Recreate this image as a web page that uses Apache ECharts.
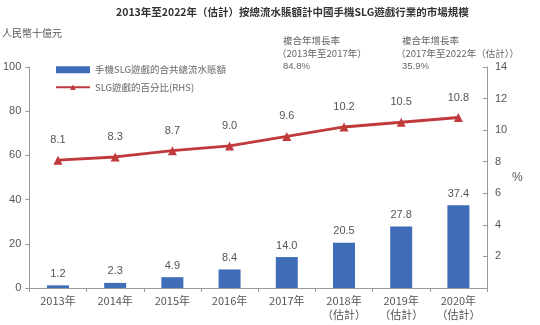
<!DOCTYPE html>
<html><head><meta charset="utf-8">
<script src="https://cdn.jsdelivr.net/npm/echarts@6/dist/echarts.min.js"></script>
<style>html,body{margin:0;padding:0;background:#fff}#c{width:540px;height:325px}</style>
</head><body><div id="c"></div>
<script>
const categories = ['2013年','2014年','2015年','2016年','2017年','2018年\n（估計）','2019年\n（估計）','2020年\n（估計）'];
const grossBilling = [1.2, 2.3, 4.9, 8.4, 14.0, 20.5, 27.8, 37.4];
const slgShare = [8.1, 8.3, 8.7, 9.0, 9.6, 10.2, 10.5, 10.8];
const leftTicks = [0, 20, 40, 60, 80, 100];
const rightTicks = [2, 4, 6, 8, 10, 12, 14];
const seriesNames = ['手機SLG遊戲的合共總流水賬額', 'SLG遊戲的百分比(RHS)'];
const cagr = [['複合年增長率', '（2013年至2017年）', '84.8%'], ['複合年增長率', '（2017年至2022年（估計））', '35.9%']];

const FONT = '"Liberation Sans","Noto Sans CJK TC",sans-serif';
const chart = echarts.init(document.getElementById('c'));
const textEls = [
  {type:'text', left:116, top:7, style:{text:'2013年至2022年（估計）按總流水賬額計中國手機SLG遊戲行業的市場規模', font:'bold 10.5px "Noto Sans CJK TC",sans-serif', fill:'#333'}},
  {type:'text', left:2, top:28, style:{text:'人民幣十億元', font:'10px "Noto Sans CJK TC",sans-serif', fill:'#555'}},
  {type:'text', left:512, top:172, style:{text:'%', font:'12px '+FONT, fill:'#555'}},
];
[283, 402].forEach((x, i) => {
  textEls.push({type:'text', left:x, top:36, style:{text:cagr[i][0], font:'9.5px "Noto Sans CJK TC",sans-serif', fill:'#666'}});
  textEls.push({type:'text', left:x-6, top:49, style:{text:cagr[i][1], font:'9.5px "Noto Sans CJK TC",sans-serif', fill:'#666'}});
  textEls.push({type:'text', left:x, top:62, style:{text:cagr[i][2], font:'9.5px '+FONT, fill:'#666'}});
});
chart.setOption({
  animation:false,
  textStyle:{fontFamily:FONT},
  graphic: textEls,
  legend:{
    orient:'vertical', left:50, top:60, itemGap:8, itemWidth:34, itemHeight:7,
    textStyle:{fontSize:9.5, color:'#666', fontFamily:'"Noto Sans CJK TC",sans-serif'},
    data:[{name:seriesNames[0], icon:'rect'}, {name:seriesNames[1]}]
  },
  grid:{left:28, right:53, top:67, bottom:37},
  xAxis:{
    type:'category', data:categories,
    axisLine:{lineStyle:{color:'#999'}},
    axisTick:{show:true, length:4, lineStyle:{color:'#999'}},
    axisLabel:{color:'#555', fontSize:11, margin:6, lineHeight:14, fontFamily:'"Noto Sans CJK TC",sans-serif'}
  },
  yAxis:[
    {type:'value', min:0, max:100, interval:20, position:'left',
     axisLine:{show:true, lineStyle:{color:'#999'}},
     axisTick:{show:true, length:4, lineStyle:{color:'#999'}},
     axisLabel:{color:'#555', fontSize:11, margin:8},
     splitLine:{show:false}},
    {type:'value', min:0, max:14, interval:2, position:'right',
     axisLine:{show:true, lineStyle:{color:'#999'}},
     axisTick:{show:true, inside:true, length:4, lineStyle:{color:'#999'}},
     axisLabel:{color:'#555', fontSize:11, margin:8, formatter:v => rightTicks.includes(v) ? String(v) : ''},
     splitLine:{show:false}}
  ],
  series:[
    {name:seriesNames[0], type:'bar', yAxisIndex:0, data:grossBilling, barWidth:22,
     itemStyle:{color:'#3f6db8'},
     label:{show:true, position:'top', distance:6, color:'#555', fontSize:11, formatter:p => p.value.toFixed(1)}},
    {name:seriesNames[1], type:'line', yAxisIndex:1, data:slgShare,
     symbol:'triangle', symbolSize:9,
     lineStyle:{color:'#c0393b', width:2.8}, itemStyle:{color:'#c0393b'},
     label:{show:true, position:'top', distance:10, color:'#555', fontSize:11, formatter:p => p.value.toFixed(1)}}
  ]
});
</script></body></html>
